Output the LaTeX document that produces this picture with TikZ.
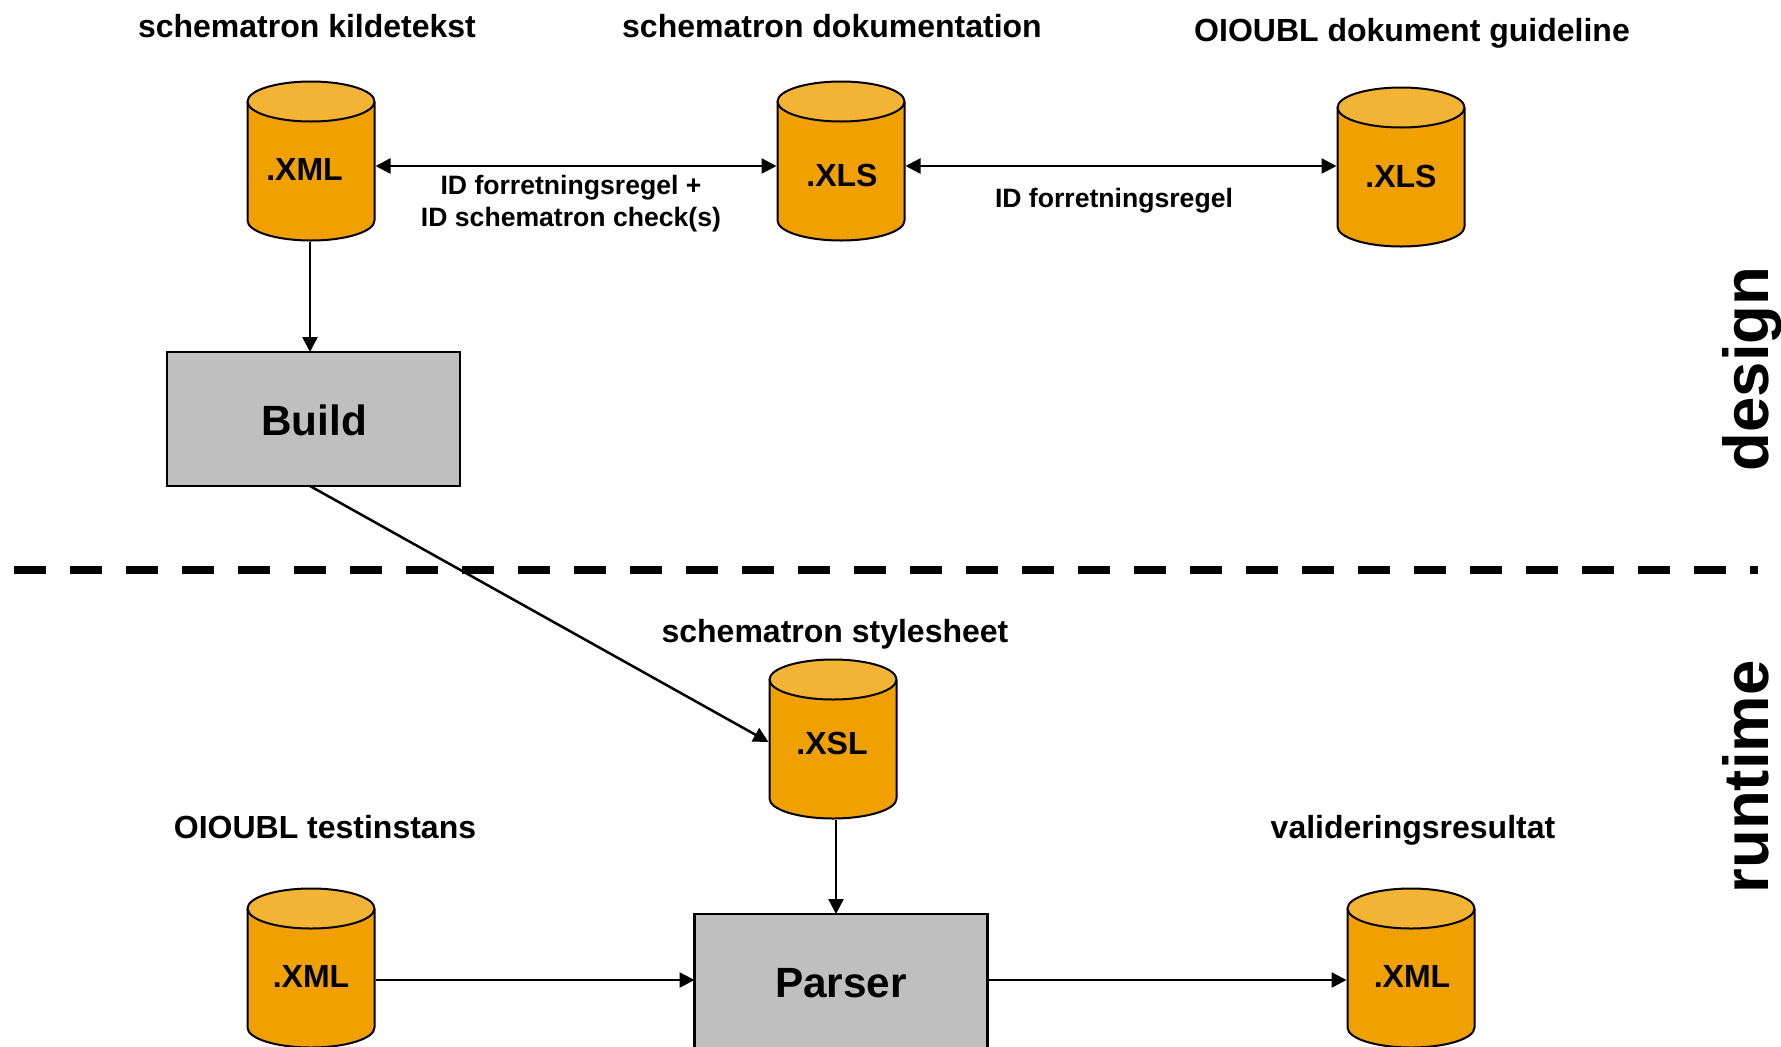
\documentclass[tikz,border=0pt]{standalone}
\usepackage{fontspec}
\setmainfont{Liberation Sans}
\usetikzlibrary{arrows.meta}
\definecolor{cylbody}{HTML}{F0A000}
\definecolor{cyltop}{HTML}{F3B435}
\definecolor{boxgrey}{HTML}{BFBFBF}
\tikzset{
  x=1pt,y=-1pt,
  conn/.style={line width=2.5pt,-{Triangle[length=15pt,width=15pt]}},
  biconn/.style={line width=2.5pt,{Triangle[length=15pt,width=15pt]}-{Triangle[length=15pt,width=15pt]}},
  cylanchor/.style={rectangle,minimum width=129pt,minimum height=161pt,inner sep=0pt,outer sep=0pt},
  procbox/.style={rectangle,draw=black,line width=2.8pt,fill=boxgrey,inner sep=0pt,outer sep=0pt,minimum width=293pt,minimum height=134pt},
  title/.style={font=\bfseries\fontsize{32}{36}\selectfont,inner sep=0pt},
  ext/.style={font=\bfseries\fontsize{32}{36}\selectfont,inner sep=0pt},
  edgelabel/.style={font=\bfseries\fontsize{26.6}{32}\selectfont,inner sep=0pt},
  proclabel/.style={font=\bfseries\fontsize{42.3}{48}\selectfont,inner sep=0pt},
  side/.style={font=\bfseries\fontsize{63.5}{70}\selectfont,inner sep=0pt,rotate=90,anchor=base},
}
% name, centre x, centre y
\newcommand{\cylnode}[3]{%
  \node[cylanchor] (#1) at (#2,#3) {};
  \fill[cylbody] ([xshift=1pt,yshift=-21pt]#1.north west) -- ([xshift=1pt,yshift=21pt]#1.south west)
     arc[start angle=180,end angle=360,x radius=63.5pt,y radius=20pt]
     -- ([xshift=-1pt,yshift=-21pt]#1.north east)
     arc[start angle=0,end angle=180,x radius=63.5pt,y radius=20pt] -- cycle;
  \draw[line width=2pt] ([xshift=1pt,yshift=-21pt]#1.north west) -- ([xshift=1pt,yshift=21pt]#1.south west)
     arc[start angle=180,end angle=360,x radius=63.5pt,y radius=20pt]
     -- ([xshift=-1pt,yshift=-21pt]#1.north east);
  \draw[line width=2pt,fill=cyltop] ([xshift=-1pt,yshift=-21pt]#1.north east)
     arc[start angle=0,end angle=360,x radius=63.5pt,y radius=20pt];
}
\begin{document}
\begin{tikzpicture}
\useasboundingbox (0,0) rectangle (1781,1047);
\clip (0,0) rectangle (1781,1047);
\fill[white] (0,0) rectangle (1781,1047);
\coordinate (dashL) at (14,570);
\coordinate (dashR) at (1758,570);
\draw[line width=8pt,dash pattern=on 32pt off 24pt] (dashL) -- (dashR);

\cylnode{srcxml}{311}{161}
\cylnode{docxls}{841}{161}
\cylnode{guidexls}{1401}{167}
\cylnode{xsl}{833}{739}
\cylnode{testxml}{311}{968}
\cylnode{resxml}{1411}{968}

\node[procbox] (build) at (313.5,419) {};
\node[procbox,minimum height=200pt] (parser) at (841,1014) {};

\node[ext] (srcxmlT) at (304.5,169) {.XML};
\node[ext] (docxlsT) at (842,175) {.XLS};
\node[ext] (guidexlsT) at (1401,176) {.XLS};
\node[ext] (xslT) at (832,743) {.XSL};
\node[ext] (testxmlT) at (311,976) {.XML};
\node[ext] (resxmlT) at (1412,976) {.XML};
\node[proclabel] (buildT) at (314,420) {Build};
\node[proclabel] (parserT) at (841,983) {Parser};

\node[title] (t1) at (307,26) {schematron kildetekst};
\node[title] (t2) at (832,26) {schematron dokumentation};
\node[title] (t3) at (1412,33.5) {OIOUBL dokument guideline};
\node[title] (t4) at (835,634) {schematron stylesheet};
\node[title] (t5) at (325,827) {OIOUBL testinstans};
\node[title] (t6) at (1413,830) {valideringsresultat};

\node[edgelabel] (e1) at (571,188) {ID forretningsregel +};
\node[edgelabel] (e2) at (571,220) {ID schematron check(s)};
\node[edgelabel] (e3) at (1114,201) {ID forretningsregel};

\node[side] (design) at (1768,369) {design};
\node[side] (runtime) at (1768,777) {runtime};

\draw[biconn] ([yshift=-5pt]srcxml.east) -- ([yshift=-5pt]docxls.west);
\draw[biconn] ([yshift=-5pt]docxls.east) -- ([yshift=1pt]guidexls.west);
\draw[conn] ([xshift=-1pt]srcxml.south) -- ([xshift=-3.5pt]build.north);
\draw[conn] ([xshift=-3.5pt]build.south) -- ([yshift=-3pt]xsl.west);
\draw[conn] ([xshift=3pt]xsl.south) -- ([xshift=-5pt]parser.north);
\draw[conn] ([yshift=-12pt]testxml.east) -- ([yshift=34pt]parser.west);
\draw[conn] ([yshift=34pt]parser.east) -- ([yshift=-12pt]resxml.west);
\end{tikzpicture}
\end{document}
